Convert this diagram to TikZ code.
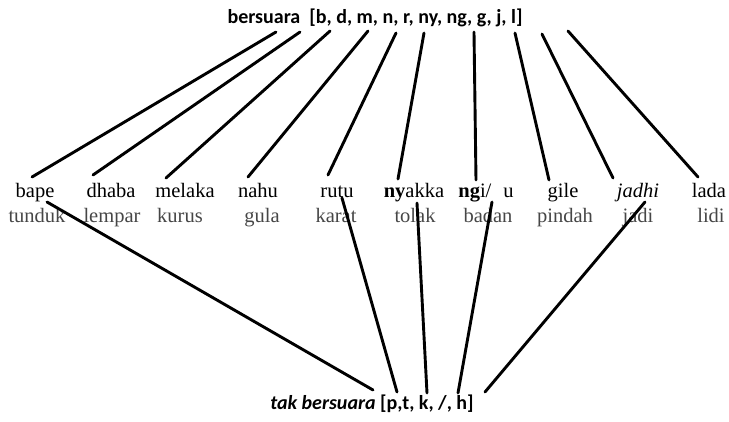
\documentclass[tikz,border=0pt]{standalone}
\usepackage{fontspec}
\setmainfont{Liberation Serif}
\newfontfamily\labelfont{Carlito}
\definecolor{glossgray}{RGB}{70,70,70}

\tikzset{
  word/.style={anchor=base,inner sep=0pt,font=\fontsize{20.5}{23}\selectfont},
  gloss/.style={word,text=glossgray},
  heading/.style={anchor=base,inner sep=0pt,font=\labelfont\bfseries\fontsize{20}{22}\selectfont},
  stroke/.style={draw,line width=2.9pt,line cap=round},
}

\begin{document}
\begin{tikzpicture}[x=1pt,y=-1pt]
  \useasboundingbox (0,0) rectangle (729,421);

  % the two groups of sounds
  \node[heading] (voiced)    at (375,23)  {bersuara\ \ [b, d, m, n, r, ny, ng, g, j, l]};
  \node[heading] (voiceless) at (372,409) {\textit{tak bersuara} [p,t, k, /, h]};

  \begin{scope}[every node/.style={word}]
    \node (bape)   at (35,197)  {bape};
    \node (dhaba)  at (111,197) {dhaba};
    \node (melaka) at (185,197) {melaka};
    \node (nahu)   at (258,197) {nahu};
    \node (rutu)   at (337,197) {rutu};
    \node (nyakka) at (414,197) {\textbf{ny}akka};
    \node (ngiu)   at (486,197) {\textbf{ng}i/\hspace{12pt}u};
    \node (gile)   at (563,197) {gile};
    \node (jadhi)  at (638,197) {\textit{jadhi}};
    \node (lada)   at (709,197) {lada};
  \end{scope}

  \begin{scope}[every node/.style={gloss}]
    \node (tunduk) at (37,222)  {tunduk};
    \node (lempar) at (112,222) {lempar};
    \node (kurus)  at (180,222) {kurus};
    \node (gula)   at (262,222) {gula};
    \node (karat)  at (336,222) {karat};
    \node (tolak)  at (415,222) {tolak};
    \node (badan)  at (488,222) {badan};
    \node (pindah) at (565,222) {pindah};
    \node (jadi)   at (638,222) {jadi};
    \node (lidi)   at (711,222) {lidi};
  \end{scope}

  % ends of the connectors under the heading
  \coordinate (vb)  at (276,32);
  \coordinate (vd)  at (300,32);
  \coordinate (vm)  at (330,31);
  \coordinate (vn)  at (368,31);
  \coordinate (vr)  at (396,33);
  \coordinate (vny) at (424,33);
  \coordinate (vng) at (474,32);
  \coordinate (vg)  at (515,33);
  \coordinate (vj)  at (542,34);
  \coordinate (vl)  at (568,31);

  % ends of the connectors at the words
  \coordinate (bape-up)   at (32,177);
  \coordinate (dhaba-up)  at (93,175);
  \coordinate (melaka-up) at (166,178);
  \coordinate (nahu-up)   at (248,177);
  \coordinate (rutu-up)   at (328,175);
  \coordinate (nyakka-up) at (398,179);
  \coordinate (ngiu-up)   at (476,180);
  \coordinate (gile-up)   at (549,180);
  \coordinate (jadhi-up)  at (613,178);
  \coordinate (lada-up)   at (698,177);

  \coordinate (bape-down)  at (47,202);
  \coordinate (rutu-down)  at (342,198);
  \coordinate (tolak-down) at (417,203);
  \coordinate (badan-down) at (492,202);
  \coordinate (jadi-down)  at (645,202);

  \coordinate (up)  at (373,390);
  \coordinate (up-p) at (397,392);
  \coordinate (up-k) at (427,393);
  \coordinate (up-q) at (458,393);
  \coordinate (up-h) at (485,392);

  \begin{scope}[every edge/.style={stroke}]
    \path (vb)  edge (bape-up);
    \path (vd)  edge (dhaba-up);
    \path (vm)  edge (melaka-up);
    \path (vn)  edge (nahu-up);
    \path (vr)  edge (rutu-up);
    \path (vny) edge (nyakka-up);
    \path (vng) edge (ngiu-up);
    \path (vg)  edge (gile-up);
    \path (vj)  edge (jadhi-up);
    \path (vl)  edge (lada-up);

    \path (bape-down)  edge (up);
    \path (rutu-down)  edge (up-p);
    \path (tolak-down) edge (up-k);
    \path (badan-down) edge (up-q);
    \path (jadi-down)  edge (up-h);
  \end{scope}

\end{tikzpicture}
\end{document}
